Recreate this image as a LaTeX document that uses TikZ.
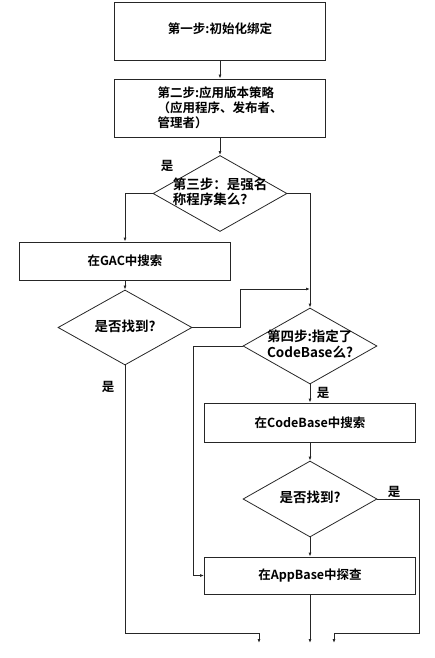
\documentclass[tikz,border=0pt]{standalone}
\usepackage{fontspec}
\setmainfont{Noto Sans CJK SC}[BoldFont={Noto Sans CJK SC Bold}]
\usetikzlibrary{shapes.geometric,arrows.meta}
\newcommand{\dtext}[1]{\makebox[0pt]{\raisebox{-3.5pt}[0pt][0pt]{\begin{tabular}[c]{@{}l@{}}#1\end{tabular}}}}
\tikzset{
  line/.style={draw=black!85,line width=0.8pt},
  arr/.style={line,-{Latex[length=4pt,width=3pt]}},
  procbox/.style={draw=black!85,line width=0.8pt,rectangle,minimum width=211pt,inner sep=2pt,font=\bfseries\fontsize{12.5}{15}\selectfont},
  decision/.style={draw=black!85,line width=0.8pt,diamond,inner sep=0pt,minimum width=134pt,minimum height=76pt,font=\bfseries\fontsize{13.5}{14}\selectfont},
  yes/.style={font=\bfseries\fontsize{12.5}{14}\selectfont}
}
\begin{document}
\begin{tikzpicture}[x=1pt,y=-1pt]
\useasboundingbox (0,0) rectangle (435,658);
\node[procbox,minimum height=58pt] (b1) at (220,31) {\raisebox{6pt}{第一步:初始化绑定}};
\node[procbox,minimum height=58pt,align=left] (b2) at (220,108) {第二步:应用版本策略\\（应用程序、发布者、\\管理者）};
\node[decision] (d1) at (220,193.5) {\dtext{第三步：是强名\\称程序集么？}};
\node[procbox,minimum height=38pt] (gac) at (125,261) {在GAC中搜索};
\node[decision,minimum height=75pt] (d2) at (125,327.5) {\dtext{是否找到?}};
\node[decision] (d3) at (310,346) {\dtext{第四步:指定了\\CodeBase么?}};
\node[procbox,minimum height=39pt] (cb) at (310,422.5) {在CodeBase中搜索};
\node[decision] (d4) at (310,499) {\dtext{是否找到?}};
\node[procbox,minimum height=37pt] (ab) at (310,575.5) {在AppBase中探查};

\coordinate (c1) at (125,193.5);
\coordinate (c2) at (310,193.5);
\coordinate (c3) at (240,327.5);
\coordinate (c4) at (240,289);
\coordinate (c5) at (310,289);
\coordinate (c6) at (125,633);
\coordinate (c7) at (259,633);
\coordinate (e1) at (259,643);
\coordinate (c8) at (193,346);
\coordinate (c9) at (193,575.5);
\coordinate (c10) at (419,499);
\coordinate (c11) at (419,633);
\coordinate (c12) at (334,633);
\coordinate (e2) at (334,643);
\coordinate (e3) at (310,643);

\draw[arr] (b1) -- (b2);
\draw[arr] (b2) -- (d1);
\draw[arr] (d1.west) -- (c1) -- (gac.north);
\draw[arr] (d1.east) -- (c2) -- (d3.north);
\draw[arr] (gac) -- (d2);
\draw[arr] (d2.east) -- (c3) -- (c4) -- (c5);
\draw[arr] (d2.south) -- (c6) -- (c7) -- (e1);
\draw[arr] (d3.west) -- (c8) -- (c9) -- (ab.west);
\draw[arr] (d3) -- (cb);
\draw[arr] (cb) -- (d4);
\draw[arr] (d4.east) -- (c10) -- (c11) -- (c12) -- (e2);
\draw[arr] (d4) -- (ab);
\draw[arr] (ab.south) -- (e3);

\node[yes] (y1) at (167,166) {是};
\node[yes] (y2) at (108,387) {是};
\node[yes] (y3) at (323,393) {是};
\node[yes] (y4) at (394,492) {是};
\end{tikzpicture}
\end{document}
